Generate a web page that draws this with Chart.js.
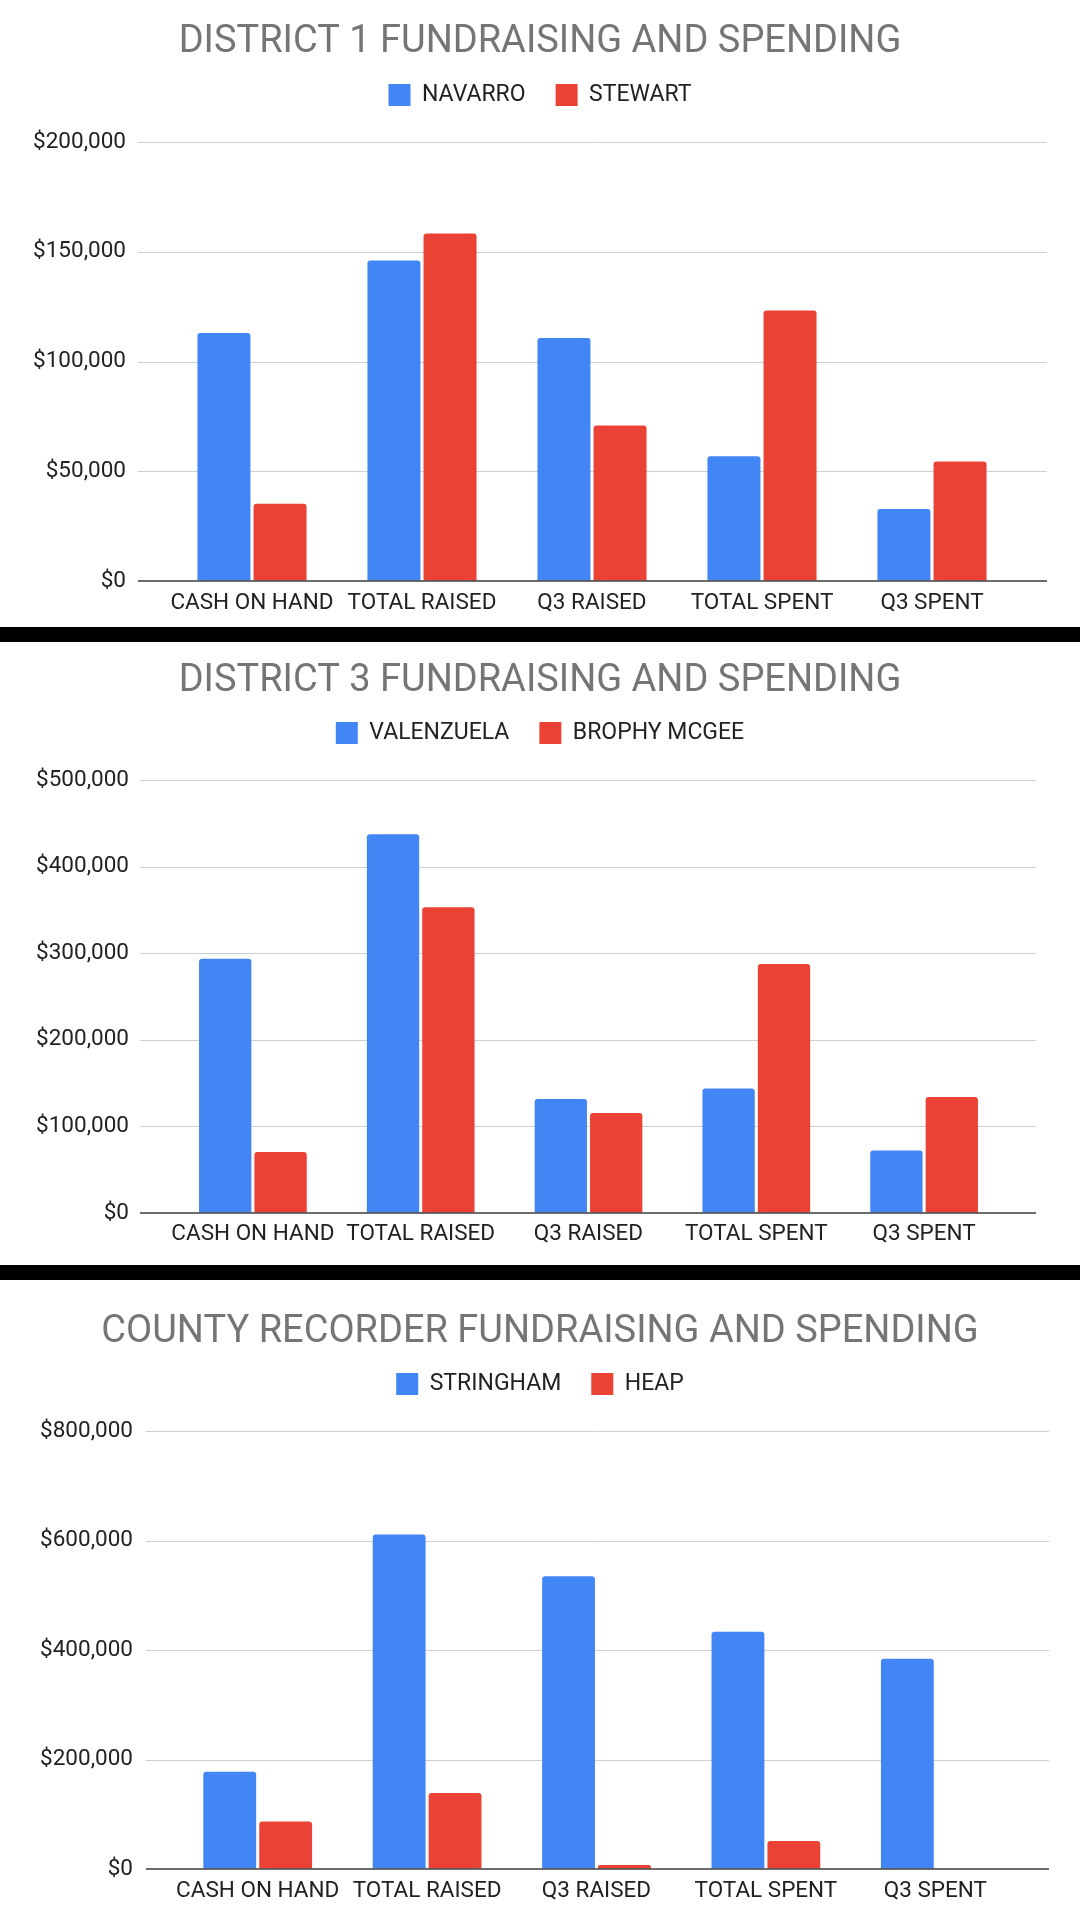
<!DOCTYPE html>
<html>
<head>
<meta charset="utf-8">
<script src="https://cdn.jsdelivr.net/npm/chart.js@4.4.1/dist/chart.umd.min.js"></script>
<style>
  body { margin: 0; background: #fff; width: 1080px; height: 1920px; position: relative; overflow: hidden; }
  canvas { position: absolute; left: 0; }
  .band { position: absolute; left: 0; width: 1080px; height: 15px; background: #000; }
</style>
</head>
<body>
<canvas id="c1" width="1080" height="627" style="top:0"></canvas>
<div class="band" style="top:627px"></div>
<canvas id="c2" width="1080" height="623" style="top:642px"></canvas>
<div class="band" style="top:1265px"></div>
<canvas id="c3" width="1080" height="640" style="top:1280px"></canvas>
<script>
// categories shared by all three charts
var categories = ["CASH ON HAND", "TOTAL RAISED", "Q3 RAISED", "TOTAL SPENT", "Q3 SPENT"];

// District 1
var d1Title = "DISTRICT 1 FUNDRAISING AND SPENDING";
var d1Names = ["NAVARRO", "STEWART"];
var d1Navarro = [113000, 146000, 110700, 56800, 32800];
var d1Stewart = [35200, 158300, 70800, 123200, 54400];
var d1Ticks = [0, 50000, 100000, 150000, 200000];

// District 3
var d3Title = "DISTRICT 3 FUNDRAISING AND SPENDING";
var d3Names = ["VALENZUELA", "BROPHY MCGEE"];
var d3Valenzuela = [293600, 437500, 131500, 143800, 72200];
var d3Brophy = [70300, 353000, 115500, 287500, 134000];
var d3Ticks = [0, 100000, 200000, 300000, 400000, 500000];

// County recorder
var crTitle = "COUNTY RECORDER FUNDRAISING AND SPENDING";
var crNames = ["STRINGHAM", "HEAP"];
var crStringham = [177500, 611000, 534700, 433400, 384000];
var crHeap = [86900, 139000, 7500, 51000, 0];
var crTicks = [0, 200000, 400000, 600000, 800000];

var BLUE = "#4285F4";
var RED = "#EA4335";
Chart.defaults.font.family = "Roboto";

// draws the light gridlines a bit wider than the category area, like Sheets does
var sheetGrid = {
    id: "sheetGrid",
    beforeDatasetsDraw: function (chart, args, opts) {
        var ctx = chart.ctx, y = chart.scales.y;
        ctx.save();
        ctx.strokeStyle = "#d0d0d0";
        ctx.lineWidth = 1;
        y.ticks.forEach(function (t) {
            if (t.value === 0) return;
            var py = Math.round(y.getPixelForValue(t.value)) + 0.5;
            ctx.beginPath();
            ctx.moveTo(opts.gridLeft, py);
            ctx.lineTo(opts.gridRight, py);
            ctx.stroke();
        });
        ctx.restore();
    },
    afterDatasetsDraw: function (chart, args, opts) {
        var ctx = chart.ctx, y = chart.scales.y;
        var py = y.getPixelForValue(0);
        ctx.save();
        ctx.strokeStyle = "#3c3c3c";
        ctx.lineWidth = 1.6;
        ctx.beginPath();
        ctx.moveTo(opts.gridLeft, py);
        ctx.lineTo(opts.gridRight, py);
        ctx.stroke();
        ctx.restore();
    }
};

function money(v) {
    return "$" + Number(v).toLocaleString("en-US");
}

function makeChart(id, title, names, s1, s2, ticks, L) {
    var legendPad = 30;
    var legendFont = 23;
    var titleSize = 38;
    var tickFont = 22.5;
    var legendY = L.legendY + 1;
    var titlePadTop = L.titleY - titleSize / 2 + 4;
    var titlePadBottom = (legendY - legendPad - legendFont / 2) - (titlePadTop + titleSize);
    var spacer = L.top - (legendY + legendFont / 2 + 10) - 10;
    var yPad = 6;
    return new Chart(document.getElementById(id), {
        type: "bar",
        data: {
            labels: categories,
            datasets: [
                { label: names[0], data: s1, backgroundColor: BLUE },
                { label: names[1], data: s2, backgroundColor: RED }
            ]
        },
        options: {
            responsive: false,
            animation: false,
            layout: { padding: 0 },
            categoryPercentage: 0.66,
            barPercentage: 0.945,
            borderRadius: 3,
            plugins: {
                title: {
                    display: true,
                    text: title,
                    color: "#757575",
                    font: { size: titleSize, weight: "normal", lineHeight: 1 },
                    padding: { top: titlePadTop, bottom: titlePadBottom }
                },
                legend: {
                    display: true,
                    labels: {
                        boxWidth: 22,
                        boxHeight: 22,
                        padding: legendPad,
                        color: "#222",
                        font: { size: legendFont }
                    }
                },
                subtitle: {
                    display: true,
                    text: "",
                    weight: 500,
                    font: { size: 10, lineHeight: 1 },
                    padding: { top: 0, bottom: spacer }
                },
                tooltip: { enabled: false },
                sheetGrid: { gridLeft: L.gridLeft, gridRight: L.gridRight }
            },
            scales: {
                x: {
                    grid: { display: false, drawTicks: false },
                    border: { display: false },
                    ticks: {
                        color: "#222",
                        font: { size: tickFont },
                        padding: L.labelY - L.bottom - tickFont * 0.6,
                        maxRotation: 0,
                        autoSkip: false
                    },
                    afterFit: function (s) { s.height = L.h - L.bottom; }
                },
                y: {
                    min: ticks[0],
                    max: ticks[ticks.length - 1],
                    // invisible tick marks push the labels left without growing the axis padding
                    grid: {
                        display: true,
                        drawOnChartArea: false,
                        drawTicks: true,
                        tickLength: L.left - L.labelRight - yPad,
                        color: "rgba(0,0,0,0)"
                    },
                    border: { display: false },
                    ticks: {
                        stepSize: ticks[1] - ticks[0],
                        color: "#222",
                        font: { size: tickFont },
                        padding: yPad,
                        callback: function (v) { return money(v); }
                    },
                    afterFit: function (s) { s.width = L.left; }
                },
                yr: {
                    type: "linear",
                    position: "right",
                    min: 0,
                    max: 1,
                    grid: { display: false, drawTicks: false },
                    border: { display: false },
                    ticks: { display: false },
                    afterFit: function (s) { s.width = 1080 - L.right; }
                }
            }
        },
        plugins: [sheetGrid]
    });
}

makeChart("c1", d1Title, d1Names, d1Navarro, d1Stewart, d1Ticks,
    { h: 627, titleY: 38, legendY: 94, top: 142, bottom: 581, labelY: 603,
      left: 167, right: 1017, labelRight: 126, gridLeft: 138, gridRight: 1047 });
makeChart("c2", d3Title, d3Names, d3Valenzuela, d3Brophy, d3Ticks,
    { h: 623, titleY: 35, legendY: 90, top: 138, bottom: 571, labelY: 592,
      left: 169, right: 1008, labelRight: 129, gridLeft: 140, gridRight: 1036 });
makeChart("c3", crTitle, crNames, crStringham, crHeap, crTicks,
    { h: 640, titleY: 48, legendY: 103, top: 151, bottom: 589, labelY: 611,
      left: 173, right: 1020, labelRight: 133, gridLeft: 146, gridRight: 1049 });
</script>
</body>
</html>
